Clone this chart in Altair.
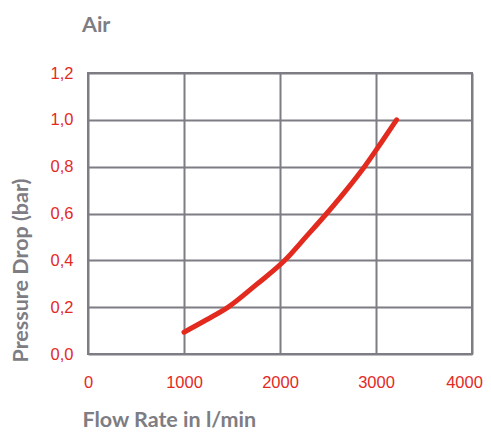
import altair as alt
import pandas as pd

flow = [1000, 1230, 1460, 1750, 2050, 2270, 2486, 2690, 2880, 3050, 3215]
pressure = [0.093, 0.145, 0.20, 0.295, 0.40, 0.50, 0.60, 0.70, 0.80, 0.90, 1.0]

x_ticks = [0, 1000, 2000, 3000, 4000]
y_ticks = [0.0, 0.2, 0.4, 0.6, 0.8, 1.0, 1.2]

df = pd.DataFrame({"flow": flow, "pressure": pressure})

GREY = "#7d7d83"
RED = "#e32a1f"
TFONT = "Lato"

chart = alt.Chart(df).mark_line(
    color=RED, strokeWidth=5, strokeCap="round", interpolate="monotone"
).encode(
    x=alt.X("flow:Q",
            scale=alt.Scale(domain=[0, 4000], nice=False, zero=False),
            axis=alt.Axis(values=x_ticks, format="d", title="Flow Rate in l/min",
                          titleAnchor="start", titleAlign="left", titleX=-6, titleY=72,
                          titleBaseline="alphabetic", labelPadding=20, labelFlush=False,
                          labelOffset={"condition": {"test": "datum.value >= 4000", "value": -8},
                                       "value": 0})),
    y=alt.Y("pressure:Q",
            scale=alt.Scale(domain=[0, 1.2], nice=False, zero=False),
            axis=alt.Axis(values=y_ticks,
                          labelExpr="replace(format(datum.value, '.1f'), '.', ',')",
                          title="Pressure Drop (bar)", titleAngle=270,
                          titleAlign="left", titleX=-61, titleY=289,
                          titleBaseline="alphabetic", labelPadding=15, labelFlush=False)),
).properties(
    width=384, height=281,
    autosize=alt.AutoSizeParams(type="none"),
    padding={"left": 80, "top": 65, "right": 11, "bottom": 77},
    title=alt.TitleParams("Air", anchor="start", frame="group", dx=-6, offset=12,
                          baseline="alphabetic",
                          font=TFONT, fontSize=21.5, fontWeight="bold", color=GREY),
).configure_view(
    stroke=GREY, strokeWidth=2
).configure_axis(
    domain=False, ticks=False, grid=True, gridColor=GREY, gridWidth=2, gridOpacity=1,
    labelColor=RED, labelFont="Liberation Sans", labelFontSize=16.5,
    titleColor=GREY, titleFont=TFONT, titleFontSize=21.5, titleFontWeight="bold",
)

chart.save("out.html", embed_options={"renderer": "svg", "actions": False})
